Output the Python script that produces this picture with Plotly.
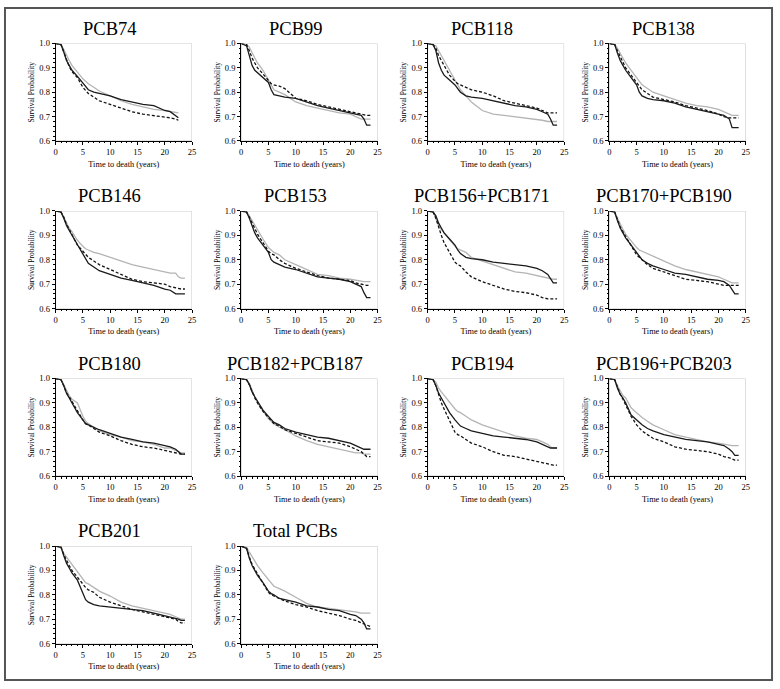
import plotly.graph_objects as go

# Shared time grid (years)
TIME = [0, 1, 1.5, 2, 2.5, 3, 4, 5, 5.5, 6, 7, 8, 10, 12, 14, 16, 18, 20, 21, 22, 22.5, 23, 23.7]

TITLES = ["PCB74", "PCB99", "PCB118", "PCB138",
          "PCB146", "PCB153", "PCB156+PCB171", "PCB170+PCB190",
          "PCB180", "PCB182+PCB187", "PCB194", "PCB196+PCB203",
          "PCB201", "Total PCBs"]

# Survival probability per panel: black solid, black dashed, gray solid
PCB74_black = [1, 0.995, 0.965, 0.93, 0.91, 0.89, 0.865, 0.835, 0.82, 0.81, 0.80, 0.795, 0.785, 0.77, 0.76, 0.75, 0.745, 0.725, 0.72, 0.705, 0.695, None, None]
PCB74_dash = [1, 0.995, 0.965, 0.93, 0.905, 0.885, 0.86, 0.82, 0.805, 0.795, 0.78, 0.765, 0.75, 0.735, 0.72, 0.71, 0.705, 0.70, 0.695, 0.69, 0.685, None, None]
PCB74_gray = [1, 0.995, 0.975, 0.95, 0.93, 0.91, 0.88, 0.855, 0.845, 0.835, 0.82, 0.805, 0.785, 0.765, 0.75, 0.74, 0.73, 0.725, 0.72, 0.715, 0.715, None, None]

PCB99_black = [1, 0.99, 0.95, 0.91, 0.89, 0.88, 0.86, 0.84, 0.81, 0.79, 0.785, 0.78, 0.775, 0.76, 0.745, 0.735, 0.725, 0.715, 0.71, 0.705, 0.69, 0.665, 0.665]
PCB99_dash = [1, 0.995, 0.97, 0.94, 0.92, 0.90, 0.875, 0.85, 0.835, 0.83, 0.825, 0.815, 0.775, 0.765, 0.75, 0.74, 0.73, 0.72, 0.715, 0.71, 0.705, 0.705, 0.705]
PCB99_gray = [1, 0.995, 0.985, 0.96, 0.94, 0.92, 0.89, 0.85, 0.83, 0.81, 0.80, 0.79, 0.76, 0.745, 0.735, 0.725, 0.715, 0.71, 0.70, 0.69, 0.69, 0.69, 0.69]

PCB118_black = [1, 0.995, 0.97, 0.92, 0.89, 0.87, 0.85, 0.83, 0.815, 0.80, 0.785, 0.78, 0.775, 0.765, 0.755, 0.745, 0.74, 0.73, 0.72, 0.71, 0.69, 0.665, 0.665]
PCB118_dash = [1, 0.995, 0.98, 0.95, 0.93, 0.91, 0.87, 0.845, 0.835, 0.83, 0.82, 0.81, 0.80, 0.785, 0.765, 0.755, 0.745, 0.735, 0.725, 0.715, 0.715, 0.715, 0.715]
PCB118_gray = [1, 0.995, 0.99, 0.97, 0.95, 0.93, 0.89, 0.85, 0.83, 0.81, 0.785, 0.76, 0.725, 0.71, 0.705, 0.70, 0.695, 0.69, 0.685, 0.68, 0.68, 0.68, 0.68]

PCB138_black = [1, 0.995, 0.96, 0.93, 0.91, 0.89, 0.86, 0.83, 0.80, 0.785, 0.775, 0.77, 0.765, 0.755, 0.74, 0.73, 0.72, 0.71, 0.705, 0.69, 0.655, 0.655, 0.655]
PCB138_dash = [1, 0.995, 0.97, 0.945, 0.925, 0.90, 0.87, 0.84, 0.825, 0.81, 0.795, 0.78, 0.77, 0.76, 0.745, 0.735, 0.725, 0.71, 0.70, 0.695, 0.695, 0.695, 0.695]
PCB138_gray = [1, 0.995, 0.98, 0.96, 0.94, 0.92, 0.89, 0.86, 0.845, 0.83, 0.815, 0.80, 0.785, 0.77, 0.755, 0.745, 0.74, 0.73, 0.72, 0.71, 0.705, 0.705, 0.705]

PCB146_black = [1, 0.995, 0.97, 0.94, 0.92, 0.90, 0.86, 0.82, 0.80, 0.785, 0.77, 0.755, 0.74, 0.725, 0.715, 0.705, 0.695, 0.68, 0.675, 0.66, 0.66, 0.66, 0.66]
PCB146_dash = [1, 0.995, 0.975, 0.945, 0.925, 0.905, 0.86, 0.835, 0.82, 0.81, 0.795, 0.78, 0.76, 0.74, 0.72, 0.71, 0.705, 0.70, 0.69, 0.685, 0.68, 0.68, 0.68]
PCB146_gray = [1, 0.995, 0.975, 0.95, 0.93, 0.915, 0.88, 0.855, 0.845, 0.84, 0.83, 0.825, 0.81, 0.795, 0.78, 0.77, 0.76, 0.75, 0.745, 0.745, 0.73, 0.725, 0.725]

PCB153_black = [1, 0.995, 0.97, 0.94, 0.91, 0.89, 0.86, 0.83, 0.80, 0.79, 0.78, 0.77, 0.76, 0.745, 0.73, 0.725, 0.72, 0.71, 0.70, 0.69, 0.665, 0.645, 0.645]
PCB153_dash = [1, 0.995, 0.975, 0.95, 0.93, 0.905, 0.87, 0.835, 0.825, 0.82, 0.80, 0.785, 0.765, 0.75, 0.735, 0.725, 0.72, 0.715, 0.705, 0.70, 0.695, 0.695, 0.695]
PCB153_gray = [1, 0.995, 0.98, 0.96, 0.94, 0.92, 0.885, 0.85, 0.84, 0.83, 0.82, 0.80, 0.78, 0.76, 0.74, 0.735, 0.725, 0.72, 0.715, 0.71, 0.71, 0.71, 0.71]

PCB156_171_black = [1, 0.995, 0.98, 0.95, 0.93, 0.91, 0.885, 0.86, 0.84, 0.825, 0.81, 0.805, 0.80, 0.79, 0.785, 0.78, 0.775, 0.765, 0.755, 0.74, 0.72, 0.705, 0.705]
PCB156_171_dash = [1, 0.995, 0.97, 0.93, 0.90, 0.87, 0.83, 0.79, 0.78, 0.775, 0.75, 0.73, 0.71, 0.695, 0.68, 0.67, 0.665, 0.655, 0.645, 0.64, 0.64, 0.64, 0.64]
PCB156_171_gray = [1, 0.995, 0.97, 0.94, 0.925, 0.91, 0.88, 0.855, 0.845, 0.84, 0.83, 0.81, 0.795, 0.78, 0.765, 0.75, 0.745, 0.735, 0.73, 0.725, 0.72, 0.72, 0.72]

PCB170_190_black = [1, 0.995, 0.96, 0.93, 0.91, 0.89, 0.86, 0.83, 0.81, 0.80, 0.785, 0.775, 0.76, 0.745, 0.74, 0.73, 0.72, 0.715, 0.71, 0.695, 0.68, 0.66, 0.66]
PCB170_190_dash = [1, 0.995, 0.965, 0.935, 0.915, 0.895, 0.86, 0.82, 0.81, 0.80, 0.78, 0.765, 0.75, 0.735, 0.72, 0.715, 0.71, 0.70, 0.695, 0.695, 0.695, 0.695, 0.695]
PCB170_190_gray = [1, 0.995, 0.97, 0.945, 0.925, 0.905, 0.875, 0.85, 0.84, 0.835, 0.825, 0.815, 0.795, 0.775, 0.76, 0.75, 0.74, 0.73, 0.72, 0.71, 0.705, 0.705, 0.705]

PCB180_black = [1, 0.995, 0.97, 0.94, 0.92, 0.90, 0.86, 0.83, 0.815, 0.81, 0.80, 0.79, 0.775, 0.76, 0.75, 0.74, 0.735, 0.725, 0.72, 0.71, 0.70, 0.69, 0.69]
PCB180_dash = [1, 0.995, 0.97, 0.94, 0.925, 0.905, 0.87, 0.83, 0.815, 0.81, 0.795, 0.78, 0.765, 0.745, 0.73, 0.72, 0.715, 0.705, 0.70, 0.695, 0.69, 0.69, 0.69]
PCB180_gray = [1, 0.995, 0.975, 0.95, 0.93, 0.915, 0.90, 0.845, 0.825, 0.815, 0.80, 0.785, 0.77, 0.76, 0.745, 0.74, 0.73, 0.715, 0.715, 0.705, 0.70, 0.695, 0.695]

PCB182_187_black = [1, 0.995, 0.975, 0.945, 0.925, 0.905, 0.87, 0.845, 0.83, 0.82, 0.81, 0.795, 0.78, 0.77, 0.76, 0.755, 0.745, 0.735, 0.725, 0.715, 0.71, 0.71, 0.71]
PCB182_187_dash = [1, 0.995, 0.975, 0.945, 0.92, 0.90, 0.865, 0.84, 0.825, 0.815, 0.805, 0.79, 0.775, 0.76, 0.745, 0.74, 0.735, 0.72, 0.71, 0.70, 0.69, 0.68, 0.68]
PCB182_187_gray = [1, 0.995, 0.98, 0.95, 0.925, 0.90, 0.865, 0.835, 0.825, 0.815, 0.80, 0.79, 0.765, 0.745, 0.73, 0.72, 0.71, 0.70, 0.695, 0.695, 0.69, 0.69, 0.69]

PCB194_black = [1, 0.995, 0.97, 0.94, 0.92, 0.90, 0.86, 0.83, 0.815, 0.805, 0.795, 0.785, 0.775, 0.765, 0.76, 0.755, 0.75, 0.74, 0.73, 0.72, 0.715, 0.715, 0.715]
PCB194_dash = [1, 0.995, 0.97, 0.93, 0.90, 0.875, 0.83, 0.78, 0.77, 0.765, 0.75, 0.735, 0.72, 0.70, 0.685, 0.68, 0.67, 0.66, 0.655, 0.65, 0.645, 0.645, 0.645]
PCB194_gray = [1, 0.995, 0.985, 0.96, 0.945, 0.93, 0.90, 0.875, 0.865, 0.86, 0.845, 0.83, 0.81, 0.795, 0.78, 0.765, 0.755, 0.75, 0.74, 0.73, 0.72, 0.715, 0.715]

PCB196_203_black = [1, 0.995, 0.96, 0.935, 0.92, 0.90, 0.85, 0.83, 0.82, 0.81, 0.795, 0.785, 0.77, 0.76, 0.75, 0.745, 0.74, 0.73, 0.725, 0.71, 0.70, 0.685, 0.685]
PCB196_203_dash = [1, 0.995, 0.965, 0.935, 0.915, 0.89, 0.845, 0.81, 0.795, 0.785, 0.77, 0.755, 0.74, 0.72, 0.71, 0.705, 0.70, 0.69, 0.68, 0.675, 0.67, 0.665, 0.665]
PCB196_203_gray = [1, 0.995, 0.97, 0.95, 0.93, 0.92, 0.88, 0.86, 0.85, 0.84, 0.825, 0.81, 0.79, 0.77, 0.76, 0.75, 0.74, 0.735, 0.73, 0.725, 0.725, 0.725, 0.725]

PCB201_black = [1, 0.995, 0.96, 0.93, 0.91, 0.89, 0.86, 0.81, 0.78, 0.77, 0.76, 0.755, 0.75, 0.745, 0.74, 0.735, 0.725, 0.715, 0.71, 0.705, 0.70, 0.695, 0.695]
PCB201_dash = [1, 0.995, 0.965, 0.94, 0.92, 0.90, 0.87, 0.84, 0.83, 0.82, 0.81, 0.79, 0.77, 0.755, 0.74, 0.73, 0.72, 0.71, 0.705, 0.70, 0.69, 0.685, 0.685]
PCB201_gray = [1, 0.995, 0.97, 0.955, 0.935, 0.92, 0.89, 0.86, 0.85, 0.845, 0.83, 0.815, 0.795, 0.77, 0.755, 0.745, 0.735, 0.725, 0.72, 0.71, 0.705, 0.70, 0.70]

TOTAL_black = [1, 0.99, 0.95, 0.92, 0.90, 0.88, 0.85, 0.815, 0.805, 0.80, 0.785, 0.78, 0.77, 0.755, 0.75, 0.74, 0.735, 0.72, 0.715, 0.70, 0.685, 0.66, 0.66]
TOTAL_dash = [1, 0.99, 0.955, 0.925, 0.905, 0.885, 0.85, 0.81, 0.80, 0.795, 0.785, 0.775, 0.76, 0.75, 0.735, 0.725, 0.715, 0.70, 0.695, 0.685, 0.68, 0.675, 0.67]
TOTAL_gray = [1, 0.995, 0.975, 0.955, 0.935, 0.92, 0.89, 0.86, 0.845, 0.835, 0.825, 0.815, 0.79, 0.765, 0.75, 0.745, 0.74, 0.735, 0.73, 0.725, 0.725, 0.725, 0.725]

SERIES = [
    (PCB74_black, PCB74_dash, PCB74_gray),
    (PCB99_black, PCB99_dash, PCB99_gray),
    (PCB118_black, PCB118_dash, PCB118_gray),
    (PCB138_black, PCB138_dash, PCB138_gray),
    (PCB146_black, PCB146_dash, PCB146_gray),
    (PCB153_black, PCB153_dash, PCB153_gray),
    (PCB156_171_black, PCB156_171_dash, PCB156_171_gray),
    (PCB170_190_black, PCB170_190_dash, PCB170_190_gray),
    (PCB180_black, PCB180_dash, PCB180_gray),
    (PCB182_187_black, PCB182_187_dash, PCB182_187_gray),
    (PCB194_black, PCB194_dash, PCB194_gray),
    (PCB196_203_black, PCB196_203_dash, PCB196_203_gray),
    (PCB201_black, PCB201_dash, PCB201_gray),
    (TOTAL_black, TOTAL_dash, TOTAL_gray),
]

X_TICKS = [0, 5, 10, 15, 20, 25]
Y_TICKS = [0.6, 0.7, 0.8, 0.9, 1.0]

# ---- layout geometry (pixels) ----
W, H = 780, 689
COL_X0 = [54, 241, 429, 612]
ROW_Y0 = [39, 209, 379, 549]
PW, PH = 137.5, 99
FONT = "Liberation Serif"

def px(x):
    return x / W

def py(y):
    return 1 - y / H

fig = go.Figure()
layout = dict(
    width=W, height=H,
    margin=dict(l=0, r=0, t=0, b=0),
    paper_bgcolor="white", plot_bgcolor="white",
    showlegend=False,
    font=dict(family=FONT, color="black"),
    annotations=[], shapes=[],
)

for i, title in enumerate(TITLES):
    r, c = divmod(i, 4)
    n = i + 1
    xa = "x" if n == 1 else f"x{n}"
    ya = "y" if n == 1 else f"y{n}"
    x0, y0 = COL_X0[c], ROW_Y0[r]
    black, dash, gray = SERIES[i]
    for vals, color, dsh in ((gray, "#b4b4b4", "solid"),
                             (dash, "#111111", "3px,2px"),
                             (black, "#1a1a1a", "solid")):
        fig.add_trace(go.Scatter(x=TIME, y=vals, mode="lines", xaxis=xa, yaxis=ya,
                                 line=dict(color=color, width=1.3, dash=dsh),
                                 connectgaps=False, hoverinfo="skip"))
    axcommon = dict(showgrid=False, zeroline=False, showline=True, linecolor="black",
                    linewidth=1, ticks="outside", ticklen=3, tickcolor="black",
                    tickfont=dict(size=8.5, family=FONT, color="black"))
    layout["xaxis" + ("" if n == 1 else str(n))] = dict(
        domain=[px(x0), px(x0 + PW)], anchor=ya, range=[0, 25],
        tickvals=X_TICKS, ticktext=[str(v) for v in X_TICKS],
        minor=dict(dtick=1, ticks="outside", ticklen=1.5, tickcolor="black", showgrid=False),
        title=dict(text="Time to death (years)", font=dict(size=8.3, family=FONT), standoff=4),
        **axcommon)
    layout["yaxis" + ("" if n == 1 else str(n))] = dict(
        domain=[py(y0 + PH), py(y0)], anchor=xa, range=[0.6, 1.0],
        tickvals=Y_TICKS, ticktext=[f"{v:.1f}" for v in Y_TICKS],
        minor=dict(dtick=0.02, ticks="outside", ticklen=1.5, tickcolor="black", showgrid=False),
        title=dict(text="Survival Probability", font=dict(size=7.5, family=FONT), standoff=3),
        **axcommon)
    # light gray frame (top/right) of plot area
    layout["shapes"].append(dict(type="rect", xref=xa, yref=ya, x0=0, x1=25, y0=0.6, y1=1.0,
                                 line=dict(color="#c8c8c8", width=1), layer="below"))
    # panel title
    layout["annotations"].append(dict(
        text=title, x=px(x0 + PW / 2 - 14), y=py(y0 - 15), xref="paper", yref="paper",
        xanchor="center", yanchor="middle", showarrow=False,
        font=dict(size=18.5, family=FONT, color="black")))

# outer border
layout["shapes"].append(dict(type="rect", xref="paper", yref="paper",
                             x0=px(3), x1=px(776), y0=py(685), y1=py(3),
                             line=dict(color="#555555", width=2)))

fig.update_layout(**layout)
fig.write_html("out.html", config={"displayModeBar": False},
               post_script="document.body.style.margin='0';document.body.style.overflow='hidden';")
